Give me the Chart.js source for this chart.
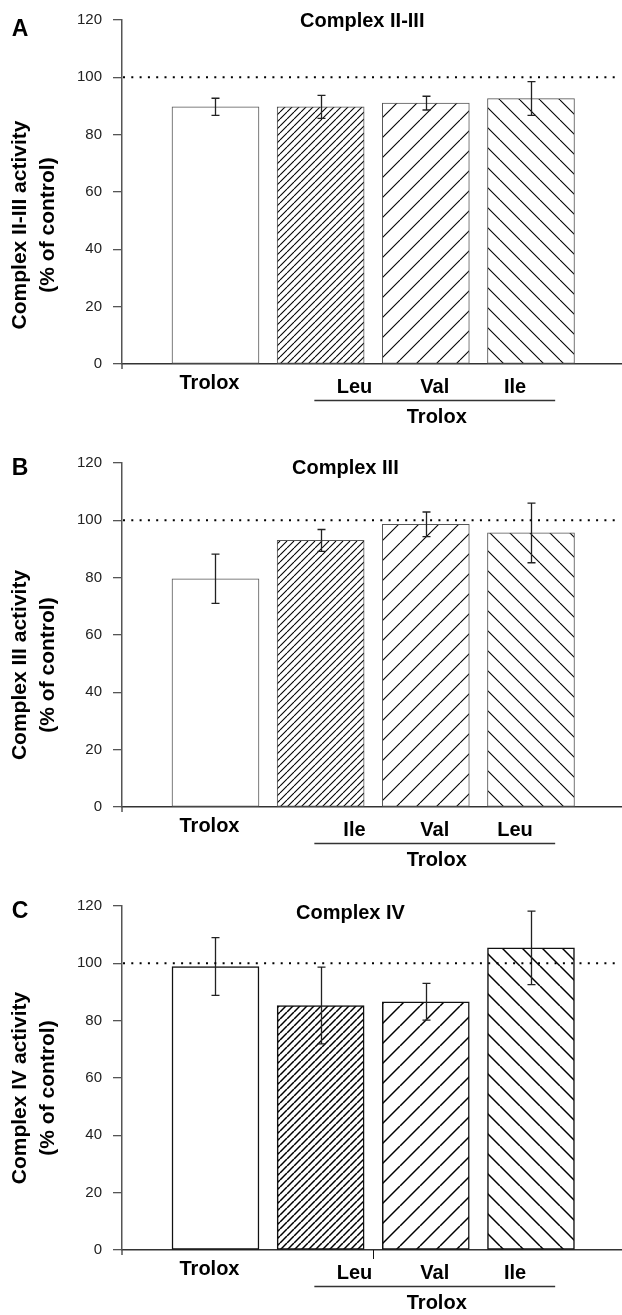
<!DOCTYPE html>
<html>
<head>
<meta charset="utf-8">
<script src="https://cdn.jsdelivr.net/npm/chart.js@4.4.1/dist/chart.umd.min.js"></script>
<style>
  html, body { margin: 0; padding: 0; background: #fff; }
  #wrap { position: relative; width: 622px; height: 1315px; }
  .panel { position: absolute; left: 0; width: 622px; height: 429px; }
</style>
</head>
<body>
<div id="wrap">
  <div class="panel" style="top:0px"><canvas id="chart-a" width="622" height="429"></canvas></div>
  <div class="panel" style="top:443px"><canvas id="chart-b" width="622" height="429"></canvas></div>
  <div class="panel" style="top:886px"><canvas id="chart-c" width="622" height="429"></canvas></div>
</div>
<script>
// ---- data ----
const panelLetters = ['A', 'B', 'C'];
const panelTitles = ['Complex II-III', 'Complex III', 'Complex IV'];
const yTitles = [
  ['Complex II-III activity', '(% of control)'],
  ['Complex III activity', '(% of control)'],
  ['Complex IV activity', '(% of control)']
];
const firstLabel = 'Trolox';
const groupLabel = 'Trolox';
const aminoA = ['Leu', 'Val', 'Ile'];
const aminoB = ['Ile', 'Val', 'Leu'];
const aminoC = ['Leu', 'Val', 'Ile'];

const valuesA = [89.7, 89.7, 91.0, 92.6];
const errorsA = [3.0, 4.0, 2.4, 5.9];
const valuesB = [79.6, 93.0, 98.6, 95.6];
const errorsB = [8.6, 3.8, 4.3, 10.4];
const valuesC = [98.9, 85.3, 86.6, 105.4];
const errorsC = [10.1, 13.4, 6.4, 12.8];

const controlLevel = 100;
const yMax = 120;
const yStep = 20;

// ---- layout / style (kept apart from the data) ----
const FONT = '"Liberation Sans", Arial, sans-serif';
const X_MIN = 0.111;
const X_MAX = 4.856;
const GROUP_FROM = 1.94;   // underline under the amino acid labels (x units)
const GROUP_TO = 4.23;

const panelStyles = [
  { edge: '#555', edgeWidth: 1, hatchWidth: 1.1, letterY: 36, titleX: 300, titleY: 27, yTitleMid: 225, midTick: false },
  { edge: '#555', edgeWidth: 1, hatchWidth: 1.1, letterY: 32, titleX: 292, titleY: 31, yTitleMid: 222, midTick: false },
  { edge: '#111', edgeWidth: 1.5, hatchWidth: 1.5, letterY: 32, titleX: 296, titleY: 33, yTitleMid: 202, midTick: true }
];

/**
 * Build a diagonal hatch pattern
 * @param {number} period - horizontal repeat in px
 * @param {number} dir - 1 for "/", -1 for "\"
 */
function makeHatch(period, dir, lineWidth) {
  const tile = document.createElement('canvas');
  tile.width = period;
  tile.height = period;
  const c = tile.getContext('2d');
  c.fillStyle = '#fff';
  c.fillRect(0, 0, period, period);
  c.strokeStyle = '#000';
  c.lineWidth = lineWidth;
  for (let k = -1; k <= 1; k++) {
    c.beginPath();
    if (dir > 0) {
      c.moveTo(k * period, period);
      c.lineTo(k * period + period, 0);
    } else {
      c.moveTo(k * period, 0);
      c.lineTo(k * period + period, period);
    }
    c.stroke();
  }
  return c.createPattern(tile, 'repeat');
}

/**
 * Error bars, control line and all the text around the plot
 */
const panelDecor = {
  id: 'panelDecor',
  afterDatasetsDraw(chart, args, opts) {
    const { ctx, chartArea } = chart;
    const x = chart.scales.x;
    const y = chart.scales.y;

    // error bars
    ctx.save();
    ctx.strokeStyle = '#222';
    ctx.lineWidth = 1.3;
    opts.values.forEach((v, i) => {
      const px = Math.round(x.getPixelForValue(i + 1)) + 0.5;
      const top = y.getPixelForValue(v + opts.errors[i]);
      const bot = y.getPixelForValue(v - opts.errors[i]);
      ctx.beginPath();
      ctx.moveTo(px, top);
      ctx.lineTo(px, bot);
      ctx.moveTo(px - 4, top);
      ctx.lineTo(px + 4, top);
      ctx.moveTo(px - 4, bot);
      ctx.lineTo(px + 4, bot);
      ctx.stroke();
    });
    ctx.restore();

    // dotted control line
    ctx.save();
    const cy = y.getPixelForValue(controlLevel);
    ctx.strokeStyle = '#000';
    ctx.lineWidth = 2;
    ctx.setLineDash([2, 6.3]);
    ctx.beginPath();
    ctx.moveTo(chartArea.left + 1, cy);
    ctx.lineTo(chartArea.right, cy);
    ctx.stroke();
    ctx.restore();
  },
  afterDraw(chart, args, opts) {
    const { ctx, chartArea } = chart;
    const x = chart.scales.x;
    const style = opts.style;
    const bottom = chartArea.bottom;

    ctx.save();
    // y axis tail below the x axis
    ctx.strokeStyle = '#555';
    ctx.lineWidth = 1.5;
    ctx.beginPath();
    ctx.moveTo(chartArea.left, bottom);
    ctx.lineTo(chartArea.left, bottom + 5);
    ctx.stroke();

    if (style.midTick) {
      const mx = Math.round(x.getPixelForValue(2.5)) + 0.5;
      ctx.strokeStyle = '#111';
      ctx.lineWidth = 1;
      ctx.beginPath();
      ctx.moveTo(mx, bottom);
      ctx.lineTo(mx, bottom + 9);
      ctx.stroke();
    }

    ctx.fillStyle = '#000';
    ctx.textBaseline = 'middle';
    ctx.textAlign = 'center';
    ctx.font = 'bold 20px ' + FONT;
    ctx.fillText(firstLabel, x.getPixelForValue(1) - 6, bottom + 19);

    // amino acid labels, spread over the bracket
    const gx0 = x.getPixelForValue(GROUP_FROM);
    const gx1 = x.getPixelForValue(GROUP_TO);
    const third = (gx1 - gx0) / 3;
    opts.amino.forEach((lab, i) => {
      ctx.fillText(lab, gx0 + third * (i + 0.5), bottom + 23);
    });
    ctx.strokeStyle = '#333';
    ctx.lineWidth = 1.3;
    ctx.beginPath();
    ctx.moveTo(gx0, bottom + 36.5);
    ctx.lineTo(gx1, bottom + 36.5);
    ctx.stroke();
    ctx.fillText(groupLabel, (gx0 + gx1) / 2 + 2, bottom + 53);

    // panel letter and title
    ctx.textBaseline = 'alphabetic';
    ctx.font = 'bold 23px ' + FONT;
    ctx.fillText(opts.letter, 20, style.letterY);
    ctx.textAlign = 'left';
    ctx.font = 'bold 20px ' + FONT;
    ctx.fillText(opts.title, style.titleX, style.titleY);

    // y axis title, two lines rotated
    ctx.translate(0, style.yTitleMid);
    ctx.rotate(-Math.PI / 2);
    ctx.textAlign = 'center';
    ctx.textBaseline = 'middle';
    ctx.font = 'bold 21px ' + FONT;
    ctx.fillText(opts.yTitle[0], 0, 20);
    ctx.fillText(opts.yTitle[1], 0, 48);
    ctx.restore();
  }
};

/**
 * Create one panel
 */
function initPanel(canvasId, idx, values, errors, amino) {
  const style = panelStyles[idx];
  const canvas = document.getElementById(canvasId);
  const fills = [
    '#fff',
    makeHatch(7, 1, style.hatchWidth),
    makeHatch(20, 1, style.hatchWidth),
    makeHatch(20, -1, style.hatchWidth)
  ];

  return new Chart(canvas.getContext('2d'), {
    type: 'bar',
    data: {
      datasets: [{
        data: values.map((v, i) => ({ x: i + 1, y: v })),
        backgroundColor: fills,
        borderColor: style.edge,
        borderWidth: style.edgeWidth,
        borderSkipped: false,
        barThickness: 87
      }]
    },
    options: {
      responsive: false,
      animation: false,
      layout: { padding: { top: 19.5, right: 1, left: 0, bottom: 0 } },
      plugins: {
        legend: { display: false },
        tooltip: { enabled: false },
        panelDecor: {
          style: style,
          values: values,
          errors: errors,
          amino: amino,
          letter: panelLetters[idx],
          title: panelTitles[idx],
          yTitle: yTitles[idx]
        }
      },
      scales: {
        x: {
          type: 'linear',
          min: X_MIN,
          max: X_MAX,
          offset: false,
          grid: { display: false, drawTicks: false },
          ticks: { display: false },
          border: { color: '#333', width: 1.5 },
          afterFit: (scale) => { scale.height = 65; }
        },
        y: {
          min: 0,
          max: yMax,
          ticks: {
            stepSize: yStep,
            padding: 11,
            color: '#222',
            font: { family: FONT, size: 15 }
          },
          grid: { drawOnChartArea: false, drawTicks: true, tickLength: 9, color: '#555', lineWidth: 1.3 },
          border: { color: '#555', width: 1.5 },
          afterFit: (scale) => { scale.width = 122; }
        }
      }
    },
    plugins: [panelDecor]
  });
}

initPanel('chart-a', 0, valuesA, errorsA, aminoA);
initPanel('chart-b', 1, valuesB, errorsB, aminoB);
initPanel('chart-c', 2, valuesC, errorsC, aminoC);
</script>
</body>
</html>
